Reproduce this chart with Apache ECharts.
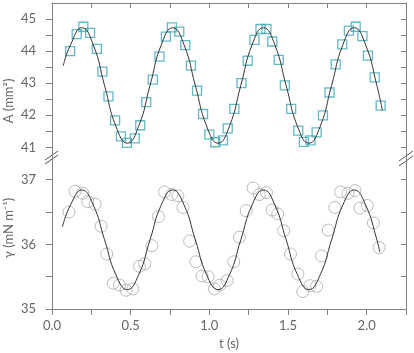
<!DOCTYPE html>
<html>
  <head>
    <meta charset="utf-8">
    <title>Area and tension</title>
    <script type="text/javascript" src="https://cdn.jsdelivr.net/npm/echarts@6/dist/echarts.min.js"></script>
    <style>
      html, body { margin: 0; padding: 0; background: #fff; }
      #chart { width: 414px; height: 353px; }
    </style>
  </head>
  <body>
    <div id="chart"></div>
    <script type="text/javascript">
      // area data (squares)
      var timeA = [0.115, 0.157, 0.199, 0.242, 0.285, 0.320, 0.359, 0.401, 0.438, 0.476,
        0.526, 0.561, 0.599, 0.641, 0.683, 0.724, 0.762, 0.809, 0.847, 0.883,
        0.922, 0.960, 1.000, 1.038, 1.087, 1.117, 1.159, 1.204, 1.244, 1.287,
        1.325, 1.363, 1.400, 1.441, 1.480, 1.520, 1.565, 1.601, 1.643, 1.682,
        1.722, 1.764, 1.803, 1.845, 1.887, 1.930, 1.973, 2.008, 2.051, 2.089];
      var areaA = [44.00, 44.53, 44.76, 44.57, 44.07, 43.36, 42.59, 41.84, 41.34, 41.14,
        41.28, 41.69, 42.41, 43.11, 43.83, 44.45, 44.74, 44.61, 44.19, 43.55,
        42.77, 42.04, 41.40, 41.16, 41.22, 41.59, 42.20, 43.00, 43.70, 44.35,
        44.69, 44.69, 44.30, 43.73, 42.93, 42.20, 41.52, 41.17, 41.22, 41.47,
        42.00, 42.71, 43.59, 44.21, 44.64, 44.76, 44.47, 43.86, 43.18, 42.30];

      // tension data (circles)
      var timeG = [0.108, 0.146, 0.196, 0.227, 0.274, 0.312, 0.348, 0.390, 0.429, 0.471,
        0.514, 0.556, 0.590, 0.635, 0.677, 0.715, 0.762, 0.800, 0.832, 0.875,
        0.915, 0.953, 0.992, 1.032, 1.066, 1.113, 1.155, 1.191, 1.234, 1.278,
        1.318, 1.363, 1.399, 1.435, 1.473, 1.516, 1.563, 1.594, 1.639, 1.682,
        1.713, 1.756, 1.798, 1.834, 1.881, 1.926, 1.957, 2.004, 2.043, 2.079];
      var tensionG = [36.50, 36.82, 36.79, 36.66, 36.62, 36.28, 35.85, 35.40, 35.37, 35.29,
        35.31, 35.66, 35.70, 35.98, 36.43, 36.81, 36.77, 36.75, 36.57, 36.05,
        35.73, 35.51, 35.50, 35.31, 35.37, 35.44, 35.73, 36.11, 36.52, 36.87,
        36.77, 36.80, 36.53, 36.47, 36.21, 35.85, 35.54, 35.27, 35.36, 35.35,
        35.82, 36.22, 36.57, 36.81, 36.79, 36.83, 36.56, 36.60, 36.33, 35.95];

      // fitted curves
      var fitTimeA = [0.072, 0.118, 0.190, 0.262, 0.334, 0.406, 0.479, 0.551, 0.623, 0.695,
        0.767, 0.839, 0.911, 0.983, 1.056, 1.128, 1.200, 1.272, 1.344, 1.416,
        1.488, 1.560, 1.633, 1.705, 1.777, 1.849, 1.921, 1.993, 2.065, 2.100];
      var fitA = [43.55, 44.20, 44.73, 44.20, 42.93, 41.66, 41.13, 41.66, 42.93, 44.20,
        44.73, 44.20, 42.93, 41.66, 41.13, 41.66, 42.93, 44.20, 44.73, 44.20,
        42.93, 41.66, 41.13, 41.66, 42.93, 44.20, 44.73, 44.20, 42.93, 42.15];
      var fitTimeG = [0.066, 0.118, 0.190, 0.262, 0.334, 0.406, 0.479, 0.551, 0.623, 0.695,
        0.767, 0.839, 0.911, 0.983, 1.056, 1.128, 1.200, 1.272, 1.344, 1.416,
        1.488, 1.560, 1.633, 1.705, 1.777, 1.849, 1.921, 1.993, 2.065, 2.083];
      var fitG = [36.27, 36.61, 36.84, 36.61, 36.07, 35.53, 35.30, 35.53, 36.07, 36.61,
        36.84, 36.61, 36.07, 35.53, 35.30, 35.53, 36.07, 36.61, 36.84, 36.61,
        36.07, 35.53, 35.30, 35.53, 36.07, 36.61, 36.84, 36.61, 36.07, 35.88];

      // ticks and labels
      var xLabels = [0, 0.5, 1, 1.5, 2];
      var areaLabels = [41, 42, 43, 44, 45];
      var areaTicks = [41, 41.5, 42, 42.5, 43, 43.5, 44, 44.5, 45];
      var tensionLabels = [35, 36, 37];
      var tensionTicks = [35, 35.5, 36, 36.5, 37];
      var tensionTicksRight = [35.5, 36, 36.5, 37];

      function pairs(xs, ys) {
        return xs.map(function (x, i) { return [x, ys[i]]; });
      }

      var axisGrey = '#808080';
      var textGrey = '#666';
      var font = 'Lato';

      var chart = echarts.init(document.getElementById('chart'));
      var options = {
        animation: false,
        grid: [
          { left: 52, right: 8, top: 3, height: 154 },
          { left: 52, right: 8, top: 157, height: 152 }
        ],
        xAxis: [
          {
            type: 'value', gridIndex: 0, position: 'top',
            min: 0, max: 2.25, interval: 0.25,
            axisLine: { show: true, lineStyle: { color: axisGrey } },
            axisTick: { show: true, inside: true, length: 5, lineStyle: { color: axisGrey } },
            axisLabel: { show: false },
            splitLine: { show: false }
          },
          {
            type: 'value', gridIndex: 1, position: 'bottom',
            min: 0, max: 2.25, interval: 0.25,
            name: 't (s)', nameLocation: 'middle', nameGap: 28,
            nameTextStyle: { color: textGrey, fontSize: 13, fontFamily: font },
            axisLine: { show: true, onZero: false, lineStyle: { color: axisGrey } },
            axisTick: { show: true, length: 6, lineStyle: { color: axisGrey } },
            axisLabel: {
              customValues: xLabels, margin: 10,
              color: textGrey, fontSize: 13, fontFamily: font,
              formatter: function (v) { return v.toFixed(1); }
            },
            splitLine: { show: false }
          }
        ],
        yAxis: [
          {
            type: 'value', gridIndex: 0, position: 'left',
            min: 40.7, max: 45.5,
            axisLine: { show: true, lineStyle: { color: axisGrey } },
            axisTick: { show: true, length: 6, customValues: areaTicks, lineStyle: { color: axisGrey } },
            axisLabel: { customValues: areaLabels, margin: 16, color: textGrey, fontSize: 13, fontFamily: font },
            splitLine: { show: false }
          },
          {
            type: 'value', gridIndex: 0, position: 'right',
            min: 40.7, max: 45.5,
            axisLine: { show: true, lineStyle: { color: axisGrey } },
            axisTick: { show: true, inside: true, length: 5, customValues: areaTicks, lineStyle: { color: axisGrey } },
            axisLabel: { show: false },
            splitLine: { show: false }
          },
          {
            type: 'value', gridIndex: 1, position: 'left',
            min: 35, max: 37.35,
            axisLine: { show: true, lineStyle: { color: axisGrey } },
            axisTick: { show: true, length: 6, customValues: tensionTicks, lineStyle: { color: axisGrey } },
            axisLabel: { customValues: tensionLabels, margin: 16, color: textGrey, fontSize: 13, fontFamily: font },
            splitLine: { show: false }
          },
          {
            type: 'value', gridIndex: 1, position: 'right',
            min: 35, max: 37.35,
            axisLine: { show: true, lineStyle: { color: axisGrey } },
            axisTick: { show: true, inside: true, length: 5, customValues: tensionTicksRight, lineStyle: { color: axisGrey } },
            axisLabel: { show: false },
            splitLine: { show: false }
          }
        ],
        series: [
          {
            name: 'A', type: 'scatter', xAxisIndex: 0, yAxisIndex: 0,
            symbol: 'rect', symbolSize: 9,
            itemStyle: { color: 'rgba(255,255,255,0)', borderColor: '#3ea7b6', borderWidth: 1.3 },
            data: pairs(timeA, areaA)
          },
          {
            name: 'A fit', type: 'line', xAxisIndex: 0, yAxisIndex: 0,
            smooth: 0.5, showSymbol: false,
            lineStyle: { color: '#333', width: 1 },
            data: pairs(fitTimeA, fitA)
          },
          {
            name: 'gamma', type: 'scatter', xAxisIndex: 1, yAxisIndex: 2,
            symbol: 'circle', symbolSize: 12,
            itemStyle: { color: 'rgba(255,255,255,0)', borderColor: '#aaaaaa', borderWidth: 1 },
            data: pairs(timeG, tensionG)
          },
          {
            name: 'gamma fit', type: 'line', xAxisIndex: 1, yAxisIndex: 2,
            smooth: 0.5, showSymbol: false,
            lineStyle: { color: '#333', width: 1 },
            data: pairs(fitTimeG, fitG)
          }
        ],
        graphic: [
          // axis names
          {
            type: 'text', x: 9, y: 101, rotation: Math.PI / 2,
            style: { text: 'A (mm²)', fill: textGrey, font: '13px Lato', align: 'center', verticalAlign: 'middle' }
          },
          {
            type: 'text', x: 9, y: 228, rotation: Math.PI / 2,
            style: { text: 'γ (mN m⁻¹)', fill: textGrey, font: '13px Lato', align: 'center', verticalAlign: 'middle' }
          },
          // axis break marks
          { type: 'line', shape: { x1: 45, y1: 160, x2: 58, y2: 151 }, style: { stroke: '#555', lineWidth: 1 } },
          { type: 'line', shape: { x1: 45, y1: 164, x2: 58, y2: 155 }, style: { stroke: '#555', lineWidth: 1 } },
          { type: 'line', shape: { x1: 399, y1: 161, x2: 413, y2: 151 }, style: { stroke: '#555', lineWidth: 1 } },
          { type: 'line', shape: { x1: 399, y1: 166, x2: 413, y2: 156 }, style: { stroke: '#555', lineWidth: 1 } }
        ]
      };
      chart.setOption(options);
    </script>
  </body>
</html>
